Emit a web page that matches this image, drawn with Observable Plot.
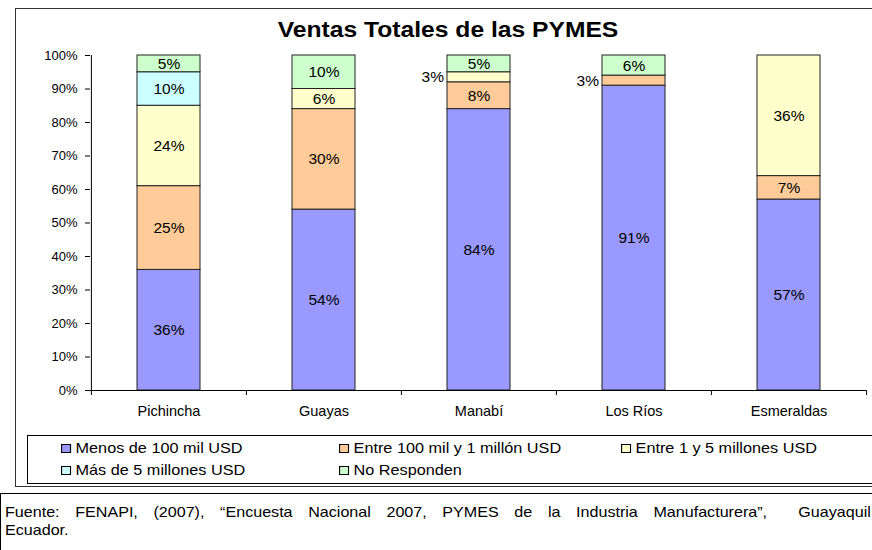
<!DOCTYPE html>
<html><head><meta charset="utf-8">
<script src="https://cdn.jsdelivr.net/npm/d3@7"></script>
<script src="https://cdn.jsdelivr.net/npm/@observablehq/plot@0.6"></script>
<style>
body{margin:0;background:#fff;font-family:"Liberation Sans",Arial,sans-serif;color:#000;}
#wrap{position:relative;width:872px;height:550px;overflow:hidden;background:#fff;}
#frame{position:absolute;left:15px;top:8px;width:880px;height:479px;border:1.5px solid #333;box-sizing:border-box;}
#title{position:absolute;left:15px;width:866px;top:17px;text-align:center;}
#title span{display:inline-block;font-weight:bold;font-size:22px;transform:scaleX(1.12);}
#chart{position:absolute;left:0;top:0;}
#legend{position:absolute;left:27px;top:435px;width:870px;height:49px;border:1px solid #000;box-sizing:border-box;font-size:14.5px;}
.item{position:absolute;display:flex;align-items:center;white-space:nowrap;transform-origin:left center;transform:scaleX(1.12);}
.sw{width:7px;height:7px;border:1px solid #000;margin-right:4px;}
#caption{position:absolute;left:0;top:493px;width:880px;height:70px;border:1px solid #000;box-sizing:border-box;font-size:14.5px;padding:9px 4px 0 4px;line-height:18px;}
#caption .ln{width:780px;transform-origin:left center;transform:scaleX(1.11);white-space:nowrap;}
#caption .l1{text-align:justify;text-align-last:justify;}
</style></head><body>
<div id="wrap">
  <div id="frame"></div>
  <div id="title"><span>Ventas Totales de las PYMES</span></div>
  <div id="chart"></div>
  <div id="legend"></div>
  <div id="caption"><div class="ln l1">Fuente: FENAPI, (2007), “Encuesta Nacional 2007, PYMES de la Industria Manufacturera”,&nbsp; Guayaquil</div><div class="ln">Ecuador.</div></div>
</div>
<script>
const provinces = ["Pichincha", "Guayas", "Manabí", "Los Ríos", "Esmeraldas"];
const seriesNames = ["Menos de 100 mil USD", "Entre 100 mil y 1 millón USD", "Entre 1 y 5 millones USD", "Más de 5 millones USD", "No Responden"];
const menos100mil = [36, 54, 84, 91, 57];
const entre100milY1millon = [25, 30, 8, 3, 7];
const entre1Y5millones = [24, 6, 3, 0, 36];
const mas5millones = [10, 0, 0, 0, 0];
const noResponden = [5, 10, 5, 6, 0];
const seriesColors = ["#9999FF", "#FFCC99", "#FFFFCC", "#CCFFFF", "#CCFFCC"];
const yTicks = [0, 10, 20, 30, 40, 50, 60, 70, 80, 90, 100];

const seriesValues = [menos100mil, entre100milY1millon, entre1Y5millones, mas5millones, noResponden];
const data = [];
seriesNames.forEach((s, i) => {
  provinces.forEach((p, j) => {
    const v = seriesValues[i][j];
    if (v > 0) data.push({province: p, series: s, value: v});
  });
});

const halfStep = 77.6;
const chart = Plot.plot({
  width: 872,
  height: 430,
  marginLeft: 90,
  marginRight: 6,
  marginTop: 55,
  marginBottom: 40,
  style: {fontFamily: '"Liberation Sans", Arial, sans-serif', fontSize: "15px", color: "#000", background: "transparent"},
  x: {domain: provinces, paddingInner: 0.594, paddingOuter: 0.297, label: null},
  y: {domain: [0, 100], label: null},
  color: {domain: seriesNames, range: seriesColors},
  marks: [
    Plot.barY(data, {x: "province", y: "value", z: "series", fill: "series", stroke: "#222", strokeWidth: 1}),
    Plot.text(data, Plot.stackY({x: "province", y: "value", z: "series", text: d => d.value >= 5 ? d.value + "%" : "", fontSize: 15.5, fill: "#000"})),
    Plot.text(data, Plot.stackY({x: "province", y: "value", z: "series", text: d => d.value < 5 ? d.value + "%" : "", fontSize: 15.5, fill: "#000", textAnchor: "end", dx: -35})),
    Plot.ruleY([0], {stroke: "#000"}),
    Plot.ruleX(provinces.slice(0, 1), {x: d => d, dx: -halfStep, stroke: "#000"}),
    Plot.ruleX(provinces, {x: d => d, dx: -halfStep, insetTop: 335, insetBottom: -5, stroke: "#000"}),
    Plot.ruleX(provinces.slice(-1), {x: d => d, dx: halfStep, insetTop: 335, insetBottom: -5, stroke: "#000"}),
    Plot.axisY({ticks: yTicks, tickFormat: d => d + "%", tickSize: 5, tickPadding: 8, fontSize: 13}),
    Plot.axisX({tickSize: 0, tickPadding: 15, fontSize: 14.5})
  ]
});
document.getElementById("chart").appendChild(chart);

const legend = document.getElementById("legend");
const legendPos = [[33, 4], [311, 4], [593, 4], [33, 26], [311, 26]];
seriesNames.forEach((s, i) => {
  const it = document.createElement("div");
  it.className = "item";
  it.style.left = legendPos[i][0] + "px";
  it.style.top = legendPos[i][1] + "px";
  const sw = document.createElement("div");
  sw.className = "sw";
  sw.style.background = seriesColors[i];
  it.appendChild(sw);
  const t = document.createElement("span");
  t.textContent = s;
  it.appendChild(t);
  legend.appendChild(it);
});
</script>
</body></html>
